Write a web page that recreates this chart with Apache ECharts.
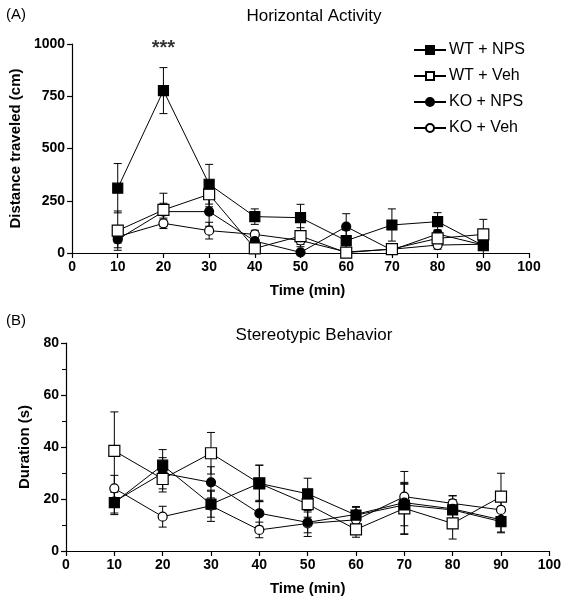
<!DOCTYPE html>
<html><head><meta charset="utf-8">
<script src="https://cdn.jsdelivr.net/npm/echarts@6/dist/echarts.min.js"></script>
<style>html,body{margin:0;padding:0;background:#fff}#c{width:564px;height:599px}</style>
</head><body><div id="c"></div>
<script>
var times = [10, 20, 30, 40, 50, 60, 70, 80, 90];
var seriesNames = ['WT + NPS', 'WT + Veh', 'KO + NPS', 'KO + Veh'];
// Panel A: Horizontal activity (cm)
var distWTNPS = [310, 777, 329, 174, 169, 59, 134, 150, 35];
var distWTNPSerr = [118, 110, 95, 37, 64, 50, 77, 43, 40];
var distWTVeh = [107, 206, 281, 22, 81, 2, 19, 70, 89];
var distWTVehErr = [94, 80, 60, 20, 40, 10, 20, 30, 72];
var distKONPS = [65, 198, 198, 57, 3, 126, 14, 91, 38];
var distKONPSerr = [40, 40, 70, 30, 10, 62, 20, 20, 20];
var distKOVeh = [78, 142, 107, 89, 60, 5, 18, 38, 42];
var distKOVehErr = [30, 25, 40, 20, 30, 10, 15, 20, 15];
// Panel B: Stereotypic behavior (s)
var durWTNPS = [18.6, 33, 18, 26, 22, 13.8, 17.7, 15.8, 11.3];
var durWTNPSerr = [4, 6, 5, 7, 6, 3, 8, 4, 4];
var durWTVeh = [38.5, 27.7, 37.6, 26, 18, 8.3, 16.4, 10.6, 20.9];
var durWTVehErr = [15, 5, 8, 7, 5, 3, 10, 6, 9];
var durKONPS = [19, 29.9, 26.4, 14.5, 11, 14.1, 18.6, 16.2, 12];
var durKONPSerr = [5, 6, 6, 5, 4, 3, 12, 5, 5];
var durKOVeh = [24.1, 13.2, 17.4, 8.1, 10.6, 12, 20.9, 18.3, 15.8];
var durKOVehErr = [5, 4, 6, 3, 5, 3, 5, 3, 5];
var xTicks = [0, 10, 20, 30, 40, 50, 60, 70, 80, 90, 100];
var yTicksA = [0, 250, 500, 750, 1000];
var yTicksB = [0, 20, 40, 60, 80];

var FONT = '"Liberation Sans", Arial, sans-serif';
var styles = [
  {symbol: 'rect', size: 10, fill: '#000'},
  {symbol: 'rect', size: 11, fill: '#fff'},
  {symbol: 'circle', size: 9, fill: '#000'},
  {symbol: 'circle', size: 9, fill: '#fff'}
];

function pairs(vals) { return times.map(function (t, i) { return [t, vals[i]]; }); }
function errPairs(vals, errs) { return times.map(function (t, i) { return [t, vals[i], errs[i]]; }); }

function lineSeries(name, idx, vals, gi) {
  var s = styles[idx];
  return {
    type: 'line', name: name, xAxisIndex: gi, yAxisIndex: gi,
    data: pairs(vals), symbol: s.symbol, symbolSize: s.size, showSymbol: true,
    lineStyle: {color: '#000', width: 1},
    itemStyle: {color: s.fill, borderColor: '#000', borderWidth: 1.2},
    z: 5, animation: false
  };
}
function errSeries(vals, errs, gi) {
  return {
    type: 'custom', xAxisIndex: gi, yAxisIndex: gi, silent: true, z: 3,
    data: errPairs(vals, errs), clip: true, animation: false,
    renderItem: function (params, api) {
      var x = api.value(0), y = api.value(1), e = api.value(2);
      var top = api.coord([x, y + e]);
      var bot = api.coord([x, y - e]);
      var hw = 4;
      var st = {stroke: '#000', lineWidth: 1};
      return {type: 'group', children: [
        {type: 'line', shape: {x1: top[0], y1: top[1], x2: bot[0], y2: bot[1]}, style: st},
        {type: 'line', shape: {x1: top[0] - hw, y1: top[1], x2: top[0] + hw, y2: top[1]}, style: st},
        {type: 'line', shape: {x1: bot[0] - hw, y1: bot[1], x2: bot[0] + hw, y2: bot[1]}, style: st}
      ]};
    }
  };
}

function axisCommon() {
  return {
    axisLine: {show: true, onZero: false, lineStyle: {color: '#000', width: 1.2}},
    axisTick: {show: true, length: 5, lineStyle: {color: '#000', width: 1.2}},
    splitLine: {show: false},
    axisLabel: {color: '#000', fontFamily: FONT, fontWeight: 'bold', fontSize: 14, margin: 7,
      formatter: function (v) { return String(v); }},
    nameTextStyle: {color: '#000', fontFamily: FONT, fontWeight: 'bold', fontSize: 15}
  };
}
function xAxis(gi, shift) {
  var a = Object.assign(axisCommon(), {
    type: 'value', gridIndex: gi, min: xTicks[0], max: xTicks[xTicks.length - 1], interval: 10,
    name: 'Time (min)', nameLocation: 'middle', nameGap: 30
  });
  a.nameTextStyle.padding = [0, 0, 0, shift];
  return a;
}

var series = [];
var A = [distWTNPS, distWTVeh, distKONPS, distKOVeh];
var Ae = [distWTNPSerr, distWTVehErr, distKONPSerr, distKOVehErr];
var B = [durWTNPS, durWTVeh, durKONPS, durKOVeh];
var Be = [durWTNPSerr, durWTVehErr, durKONPSerr, durKOVehErr];
for (var i = 0; i < 4; i++) {
  series.push(errSeries(A[i], Ae[i], 0));
  series.push(errSeries(B[i], Be[i], 1));
}
for (var j = 3; j >= 0; j--) {
  series.push(lineSeries(seriesNames[j], j, A[j], 0));
  series.push(lineSeries(seriesNames[j], j, B[j], 1));
}
series.push({
  type: 'scatter', xAxisIndex: 0, yAxisIndex: 0, symbolSize: 0, silent: true, animation: false,
  data: [[20, 978]],
  label: {show: true, position: 'inside', formatter: '***', color: '#000', fontFamily: FONT, fontWeight: 'bold', fontSize: 20}
});

var chart = echarts.init(document.getElementById('c'), null, {renderer: 'canvas'});
var yA = Object.assign(axisCommon(), {type: 'value', gridIndex: 0, min: yTicksA[0], max: yTicksA[yTicksA.length - 1], interval: 250,
  name: 'Distance traveled (cm)', nameLocation: 'middle', nameGap: 44});
var yB = Object.assign(axisCommon(), {type: 'value', gridIndex: 1, min: yTicksB[0], max: yTicksB[yTicksB.length - 1], interval: 20,
  minorTick: {show: true, splitNumber: 2, length: 4, lineStyle: {color: '#000', width: 1}},
  name: 'Duration (s)', nameLocation: 'middle', nameGap: 25});
chart.setOption({
  backgroundColor: '#fff',
  animation: false,
  title: [
    {text: 'Horizontal Activity', left: 309, top: 3, textAlign: 'center', textStyle: {fontFamily: FONT, fontWeight: 'normal', fontSize: 17, color: '#000'}},
    {text: '(A)', left: 1, top: 2, textStyle: {fontFamily: FONT, fontWeight: 'normal', fontSize: 15, color: '#000'}},
    {text: 'Stereotypic Behavior', left: 309, top: 322, textAlign: 'center', textStyle: {fontFamily: FONT, fontWeight: 'normal', fontSize: 17, color: '#000'}},
    {text: '(B)', left: 1, top: 308, textStyle: {fontFamily: FONT, fontWeight: 'normal', fontSize: 15, color: '#000'}}
  ],
  legend: {
    data: seriesNames, orient: 'vertical', left: 408, top: 37, itemWidth: 32, itemHeight: 10, itemGap: 10,
    textStyle: {fontFamily: FONT, fontSize: 16, color: '#000', padding: [0, 0, 0, -2]},
    inactiveColor: '#000'
  },
  grid: [
    {left: 65, right: 35, top: 44, height: 209},
    {left: 66, right: 11, top: 343, height: 208}
  ],
  xAxis: [xAxis(0, 14), xAxis(1, 0)],
  yAxis: [yA, yB],
  series: series
});
</script></body></html>
